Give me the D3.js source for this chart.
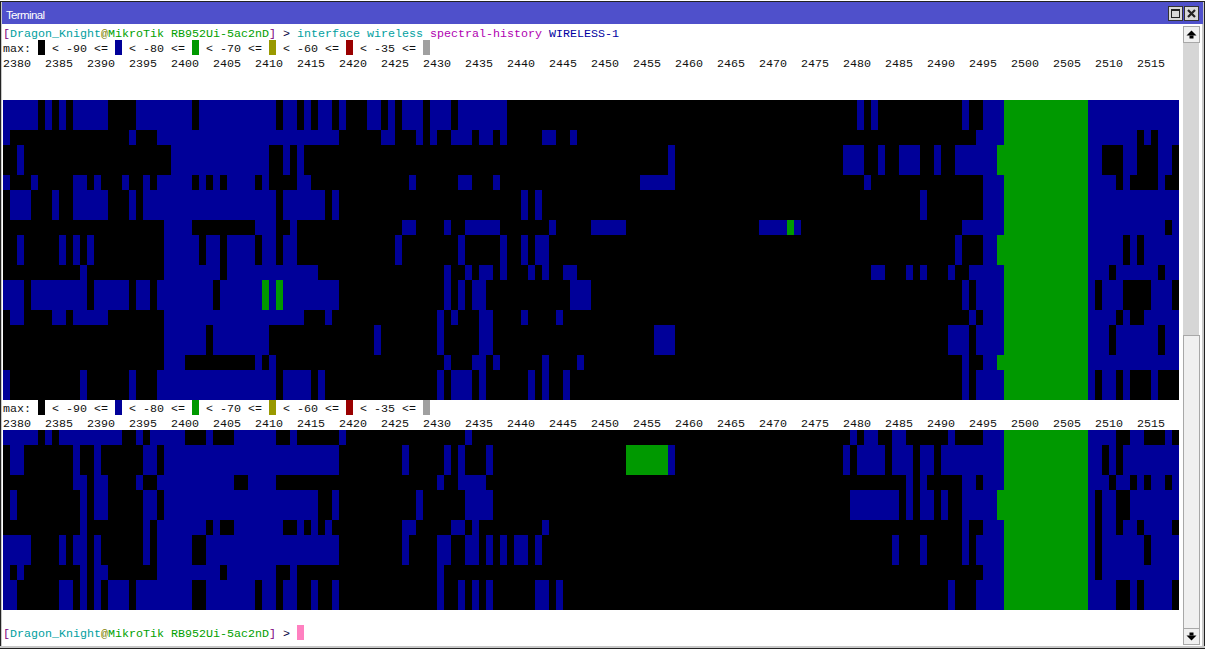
<!DOCTYPE html>
<html>
<head>
<meta charset="utf-8">
<title>Terminal</title>
<script src="https://cdn.jsdelivr.net/npm/d3@7"></script>
<style>
html, body { margin: 0; padding: 0; background: #fff; overflow: hidden; }
svg { display: block; }
.term { font-family: "Liberation Mono", monospace; font-size: 11.67px; }
</style>
</head>
<body>
<svg id="chart" width="1205" height="650"></svg>
<script>
// frequency header, one label every 6 bins
const freqLabels = [2380, 2385, 2390, 2395, 2400, 2405, 2410, 2415, 2420, 2425, 2430, 2435, 2440, 2445, 2450,
    2455, 2460, 2465, 2470, 2475, 2480, 2485, 2490, 2495, 2500, 2505, 2510, 2515];
const binCount = 168;
const legendLevels = ['-90', '-80', '-70', '-60', '-35'];
const levelColors = ['#000000', '#000099', '#009900', '#999900', '#990000', '#a0a0a0'];

// runs of bins per history line: level 1 (blue)
const topBlue = [
    '0-4 6 8 10-14 19-26 28-38 40-41 43 45-46 48 52-53 55 57-59 61-63 65-71 122 124 137 140-142 155-167',
    '0-4 6 8 10-14 19-26 28-38 40-41 43 45-46 48 52-53 55 57-59 61-63 65-71 122 124 137 140-142 155-167',
    '0 18 22-47 54-55 59 61 64-66 68-69 71 77-78 81 139-142 155-161 163 165-167',
    '2 24-37 40 42 95 120-122 125 128-130 133 136-141 155-156 160-161 165-166',
    '2 24-37 40 42 95 120-122 125 128-130 133 136-141 155-156 160-161 165-166',
    '0 4 10-11 13 17 20 22-26 28 30 32-35 37 42-43 58 65-66 70 91-95 123 140-142 155-158 160 165',
    '1-3 7 10-14 18 20-38 40-45 47 74 76 131 140-142 155-167',
    '1-3 7 10-14 18 20-38 40-45 47 74 76 131 140-142 155-167',
    '23-26 36-38 41 57-58 63 66-70 78 84-88 108-111 113 137-142 155-165 167',
    '2 8 10 12 23-27 29-30 32-35 37-38 40-41 56 65 71 74 76-77 136 140-141 155-159 161 163-167',
    '2 8 10 12 23-27 29-30 32-35 37-38 40-41 56 65 71 74 76-77 136 140-141 155-159 161 163-167',
    '11 23-30 32-44 63 66 68-69 71 75 77 80-81 124-125 129 131 135 138-142 155-157 159-164 166-167',
    '0-2 4-11 13-17 19-20 22-29 31-36 38 40-47 63 65 67-68 81-83 137 139-142 155 157-159 164-166',
    '0-2 4-11 13-17 19-20 22-29 31-36 38 40-47 63 65 67-68 81-83 137 139-142 155 157-159 164-166',
    '1-2 7-8 10-14 23-42 46 62 64 68-69 74 79 138 140-142 155-158 160 163-167',
    '23-28 30-37 53 62 68-69 93-95 135-137 139-142 155-157 159-164 166-167',
    '23-28 30-37 53 62 68-69 93-95 135-137 139-142 155-157 159-164 166-167',
    '23-25 36 38 63 67-68 70 77 82 137 140-141 155-167',
    '0 11 18 22-38 40-43 45 62 64-66 68 75 77 80 137 139-142 155 157-158 160 164',
    '0 11 18 22-38 40-43 45 62 64-66 68 75 77 80 137 139-142 155 157-158 160 164'
];
// level 2 (green)
const topGreen = [
    '143-154', '143-154', '143-154', '142-154', '142-154', '143-154', '143-154', '143-154',
    '112 143-154', '142-154', '142-154', '143-154', '37 39 143-154', '37 39 143-154', '143-154',
    '143-154', '143-154', '142-154', '143-154', '143-154'
];
const bottomBlue = [
    '0-4 6 8-16 19 21-25 29 33-38 41 48 66 121 123-124 127-128 135 140-142 155-158 161-162 166',
    '1-2 10 13 20-21 23-47 57 63 65 69 95 120 122-125 127-129 131-132 134-142 155-156 158 160-167',
    '1-2 10 13 20-21 23-47 57 63 65 69 95 120 122-125 127-129 131-132 134-142 155-156 158 160-167',
    '10-11 13-14 19 22-32 35-38 62 65-68 129 131 137-138 140-142 155-157 159-160 162 164-165 167',
    '1 11 13-14 20-21 23-44 47 59 66-69 121-127 129 131-132 134 137-141 155 157-158 161-167',
    '1 11 13-14 20-21 23-44 47 59 66-69 121-127 129 131-132 134 137-141 155 157-158 161-167',
    '11 20 22-28 30 33-39 42 44 46 57-58 64-65 67 77 137 140-142 155 157-158 160-161 163-166',
    '0-3 8 10-11 13 20 22-26 29-47 57 62-63 66-67 69 71 73-74 76 127 131 137 139-142 155 157-162 164-167',
    '0-3 8 10-11 13 20 22-26 29-47 57 62-63 66-67 69 71 73-74 76 127 131 137 139-142 155 157-162 164-167',
    '0 2 11 13-14 22-30 32-38 41 62 140-142 155 157-167',
    '0-1 8-9 11 13 15-17 19-26 29-35 37-38 40-41 44 47 62 65 67 69 76-77 79 135 139-142 155-158 161 163-166',
    '0-1 8-9 11 13 15-17 19-26 29-35 37-38 40-41 44 47 62 65 67 69 76-77 79 135 139-142 155-158 161 163-166'
];
const bottomGreen = [
    '143-154', '89-94 143-154', '89-94 143-154', '143-154', '142-154', '142-154',
    '143-154', '143-154', '143-154', '143-154', '143-154', '143-154'
];

const promptParts = [
    ['[', '#800080'], ['Dragon_Knight', '#00a0a0'], ['@', '#808000'],
    ['MikroTik RB952Ui-5ac2nD', '#00a000'], ['] ', '#800080'], ['> ', '#000040']
];
const commandParts = [
    ['interface wireless ', '#00a0a0'], ['spectral-history ', '#b000b0'], ['WIRELESS-1', '#0000a0']
];

const svg = d3.select('#chart');
const charW = 7, lineH = 15, left = 3;

// every cell in the terminal is one character wide, one line high
const x = d3.scaleBand().domain(d3.range(binCount)).range([left, left + binCount * charW]);
const colour = d3.scaleOrdinal().domain(d3.range(levelColors.length)).range(levelColors);

// window frame
svg.append('rect').attr('width', 1205).attr('height', 650).attr('fill', '#ffffff');
svg.append('rect').attr('x', 0).attr('y', 1).attr('width', 1205).attr('height', 1).attr('fill', '#222222');
svg.append('rect').attr('x', 0).attr('y', 2).attr('width', 2).attr('height', 647).attr('fill', '#c8c8c8');
svg.append('rect').attr('x', 0).attr('y', 2).attr('width', 1).attr('height', 647).attr('fill', '#222222');
svg.append('rect').attr('x', 1202).attr('y', 2).attr('width', 3).attr('height', 647).attr('fill', '#c8c8c8');
svg.append('rect').attr('x', 1204).attr('y', 2).attr('width', 1).attr('height', 647).attr('fill', '#222222');
svg.append('rect').attr('x', 0).attr('y', 646).attr('width', 1205).attr('height', 2).attr('fill', '#c8c8c8');
svg.append('rect').attr('x', 0).attr('y', 648).attr('width', 1205).attr('height', 1).attr('fill', '#222222');

// title bar
svg.append('rect').attr('x', 2).attr('y', 2).attr('width', 1201).attr('height', 22).attr('fill', '#4f50cb');
svg.append('text').attr('x', 6).attr('y', 19).text('Terminal')
    .attr('fill', '#ffffff').attr('textLength', 39)
    .style('font-family', '"Liberation Sans", sans-serif').style('font-size', '11.5px');

[1168, 1184].forEach((bx, i) => {
    svg.append('rect').attr('x', bx + 0.5).attr('y', 6.5).attr('width', 14).attr('height', 14)
        .attr('fill', '#d8d8d8').attr('stroke', '#333333');
    if (i === 0) {
        svg.append('rect').attr('x', bx + 3.5).attr('y', 9.5).attr('width', 8).attr('height', 8)
            .attr('fill', 'none').attr('stroke', '#222222');
        svg.append('rect').attr('x', bx + 3).attr('y', 9).attr('width', 9).attr('height', 2).attr('fill', '#222222');
    } else {
        svg.append('path').attr('d', `M${bx + 4},10L${bx + 11},17M${bx + 11},10L${bx + 4},17`)
            .attr('stroke', '#222222').attr('stroke-width', 2.2);
    }
});

// scrollbar
svg.append('rect').attr('x', 1183).attr('y', 26).attr('width', 16).attr('height', 619).attr('fill', '#d6d6d6');
svg.append('rect').attr('x', 1183.5).attr('y', 335.5).attr('width', 16).attr('height', 293)
    .attr('fill', '#f0f0f0').attr('stroke', '#a8a8a8');
[26, 628].forEach((by, i) => {
    svg.append('rect').attr('x', 1183.5).attr('y', by + 0.5).attr('width', 16).attr('height', 16)
        .attr('fill', '#f0f0f0').attr('stroke', '#a8a8a8');
    const cx = 1191.5, cy = by + 8.5, dir = i === 0 ? -1 : 1;
    svg.append('path')
        .attr('d', `M${cx - 5},${cy - dir}L${cx + 5},${cy - dir}L${cx},${cy + 4 * dir}Z`)
        .attr('fill', '#000000');
    svg.append('rect').attr('x', cx - 2).attr('y', dir < 0 ? cy + 1 : cy - 4).attr('width', 4).attr('height', 3).attr('fill', '#000000');
});

function termText(line, col, str, fill) {
    svg.append('text')
        .attr('class', 'term')
        .attr('x', left + col * charW)
        .attr('y', line + 12)
        .attr('fill', fill)
        .attr('textLength', str.length * charW)
        .attr('xml:space', 'preserve')
        .style('white-space', 'pre')
        .text(str);
}

function drawPrompt(line, parts) {
    let col = 0;
    parts.forEach(p => {
        termText(line, col, p[0], p[1]);
        col += p[0].length;
    });
    return col;
}

function drawLegend(line) {
    termText(line, 0, 'max:', '#101010');
    let col = 5;
    levelColors.forEach((c, i) => {
        svg.append('rect')
            .attr('x', x(col)).attr('y', line)
            .attr('width', x.bandwidth()).attr('height', lineH)
            .attr('fill', colour(i));
        if (i < legendLevels.length) {
            termText(line, col + 2, '< ' + legendLevels[i] + ' <=', '#101010');
        }
        col += 11;
    });
}

function drawFreqs(line) {
    freqLabels.forEach((f, i) => {
        termText(line, i * 6, String(f), '#101010');
    });
}

function parseRuns(str) {
    return str.split(' ').map(r => r.split('-').map(Number)).map(r => [r[0], r[r.length - 1]]);
}

function drawPanel(top, blue, green) {
    const y = d3.scaleBand().domain(d3.range(blue.length)).range([top, top + blue.length * lineH]);
    const g = svg.append('g').attr('shape-rendering', 'crispEdges');
    g.append('rect')
        .attr('x', x(0)).attr('y', y(0))
        .attr('width', x.bandwidth() * binCount).attr('height', y.bandwidth() * blue.length)
        .attr('fill', colour(0));

    const cells = [];
    [[blue, 1], [green, 2]].forEach(([rows, level]) => {
        rows.forEach((row, r) => {
            parseRuns(row).forEach(run => {
                cells.push({ row: r, first: run[0], last: run[1], level: level });
            });
        });
    });

    g.selectAll('rect.cell')
        .data(cells)
        .join('rect')
        .attr('class', 'cell')
        .attr('x', d => x(d.first))
        .attr('y', d => y(d.row))
        .attr('width', d => x(d.last) - x(d.first) + x.bandwidth())
        .attr('height', y.bandwidth())
        .attr('fill', d => colour(d.level));
}

// command line and first header
const cmdCol = drawPrompt(25, promptParts);
commandParts.reduce((col, p) => {
    termText(25, col, p[0], p[1]);
    return col + p[0].length;
}, cmdCol);
drawLegend(40);
drawFreqs(55);
drawPanel(100, topBlue, topGreen);

// repeated header, second history block
drawLegend(400);
drawFreqs(415);
drawPanel(430, bottomBlue, bottomGreen);

// prompt with cursor
const endCol = drawPrompt(625, promptParts);
svg.append('rect')
    .attr('x', x(endCol)).attr('y', 625)
    .attr('width', x.bandwidth()).attr('height', lineH)
    .attr('fill', '#ff80c0');
</script>
</body>
</html>
